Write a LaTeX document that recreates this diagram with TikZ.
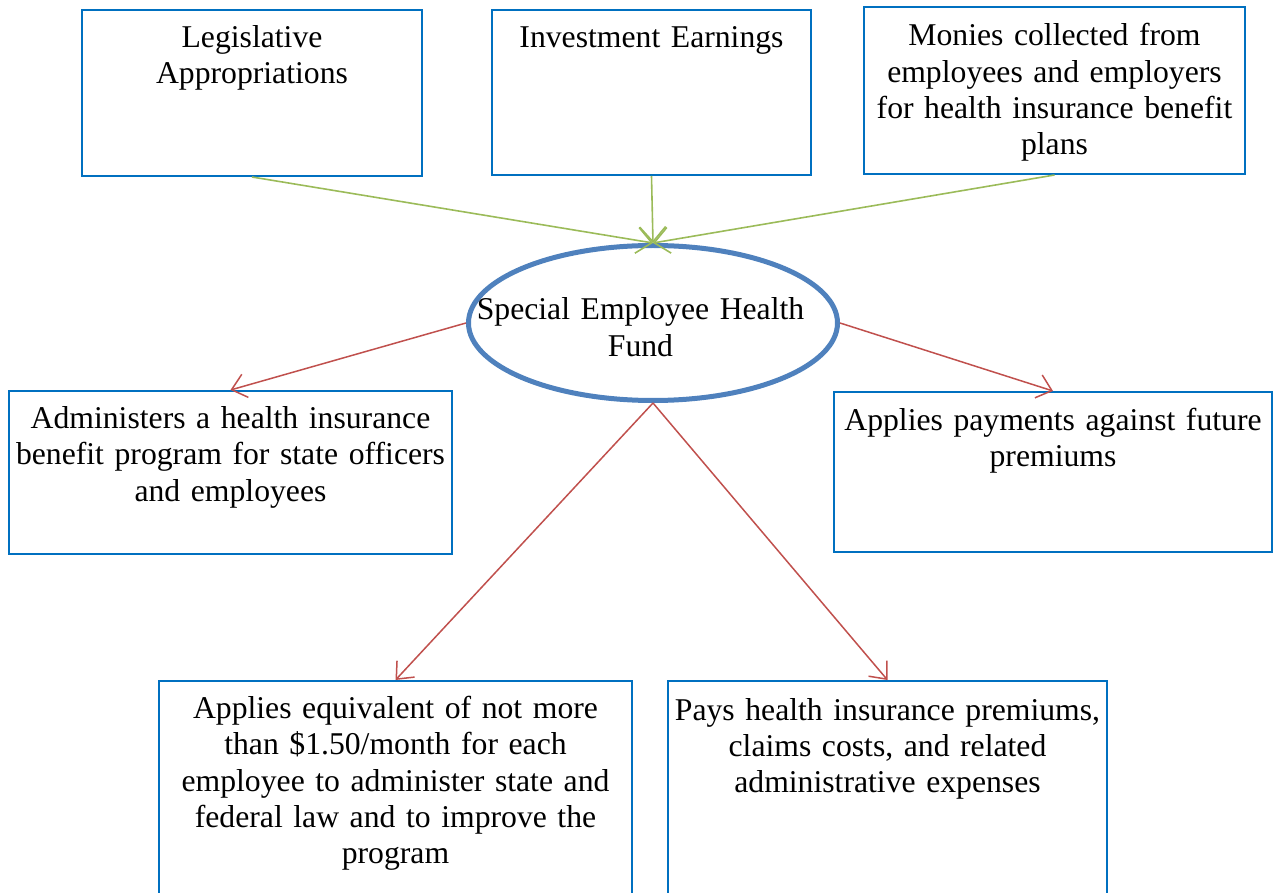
\documentclass[tikz,border=0pt]{standalone}
\usepackage{fontspec}
\setmainfont{Liberation Serif}
\usetikzlibrary{shapes.geometric,arrows.meta,positioning}
\definecolor{boxblue}{HTML}{0070C0}
\definecolor{ellblue}{HTML}{4F81BD}
\definecolor{ingreen}{HTML}{9BBB59}
\definecolor{outred}{HTML}{C0504D}
\tikzset{
  box/.style={draw=boxblue, line width=2pt, rectangle, inner sep=0pt, fill=white},
  boxtext/.style={anchor=base, align=center, inner sep=0pt,
    font=\fontsize{31.7}{36.3}\selectfont},
  inarrow/.style={draw=ingreen, line width=1.6pt, -{Straight Barb[length=15pt,width=26pt]}},
  outarrow/.style={draw=outred, line width=1.5pt, -{Straight Barb[length=14pt,width=24pt]}},
}
\begin{document}
\begin{tikzpicture}[x=1pt,y=1pt]
\useasboundingbox (0,0) rectangle (1278,-893);
% top boxes
\node[box, minimum width=340, minimum height=166] (b1) at (252,-93) {};
\node[box, minimum width=319, minimum height=165] (b2) at (651.5,-92.5) {};
\node[box, minimum width=381, minimum height=167] (b3) at (1054.5,-90.5) {};
% centre ellipse
\node[ellipse, draw=ellblue, line width=5pt, inner sep=0pt,
      minimum width=369, minimum height=155] (ell) at (653,-323) {};
% middle boxes
\node[box, minimum width=443, minimum height=163] (b4) at (230.5,-472.5) {};
\node[box, minimum width=438, minimum height=160] (b5) at (1053,-472) {};
% bottom boxes (cut by page edge)
\node[box, minimum width=473, minimum height=230] (b6) at (395.5,-796) {};
\node[box, minimum width=439, minimum height=230] (b7) at (887.5,-796) {};
% texts
\node[boxtext, text width=330] (t1) at ([yshift=-38.5pt]b1.north) {Legislative\\Appropriations};
\node[boxtext, text width=310] (t2) at ([yshift=-38.5pt]b2.north) {Investment Earnings};
\node[boxtext, text width=375] (t3) at ([yshift=-40pt]b3.north) {Monies collected from\\employees and employers\\for health insurance benefit\\plans};
\node[boxtext, text width=440] (te) at (640.5,-320) {Special Employee Health\\Fund};
\node[boxtext, text width=436] (t4) at ([yshift=-38.5pt]b4.north) {Administers a health insurance\\benefit program for state officers\\and employees};
\node[boxtext, text width=432] (t5) at ([yshift=-39.5pt]b5.north) {Applies payments against future\\premiums};
\node[boxtext, text width=466] (t6) at ([yshift=-38.5pt]b6.north) {Applies equivalent of not more\\than \$1.50/month for each\\employee to administer state and\\federal law and to improve the\\program};
\node[boxtext, text width=432] (t7) at ([yshift=-40pt]b7.north) {Pays health insurance premiums,\\claims costs, and related\\administrative expenses};
% incoming arrows
\draw[inarrow] (b1.south) -- (ell.north);
\draw[inarrow] (b2.south) -- (ell.north);
\draw[inarrow] (b3.south) -- (ell.north);
% outgoing arrows
\draw[outarrow] (ell.west) -- (b4.north);
\draw[outarrow] (ell.east) -- (b5.north);
\draw[outarrow] (ell.south) -- (b6.north);
\draw[outarrow] (ell.south) -- (b7.north);
\end{tikzpicture}
\end{document}
